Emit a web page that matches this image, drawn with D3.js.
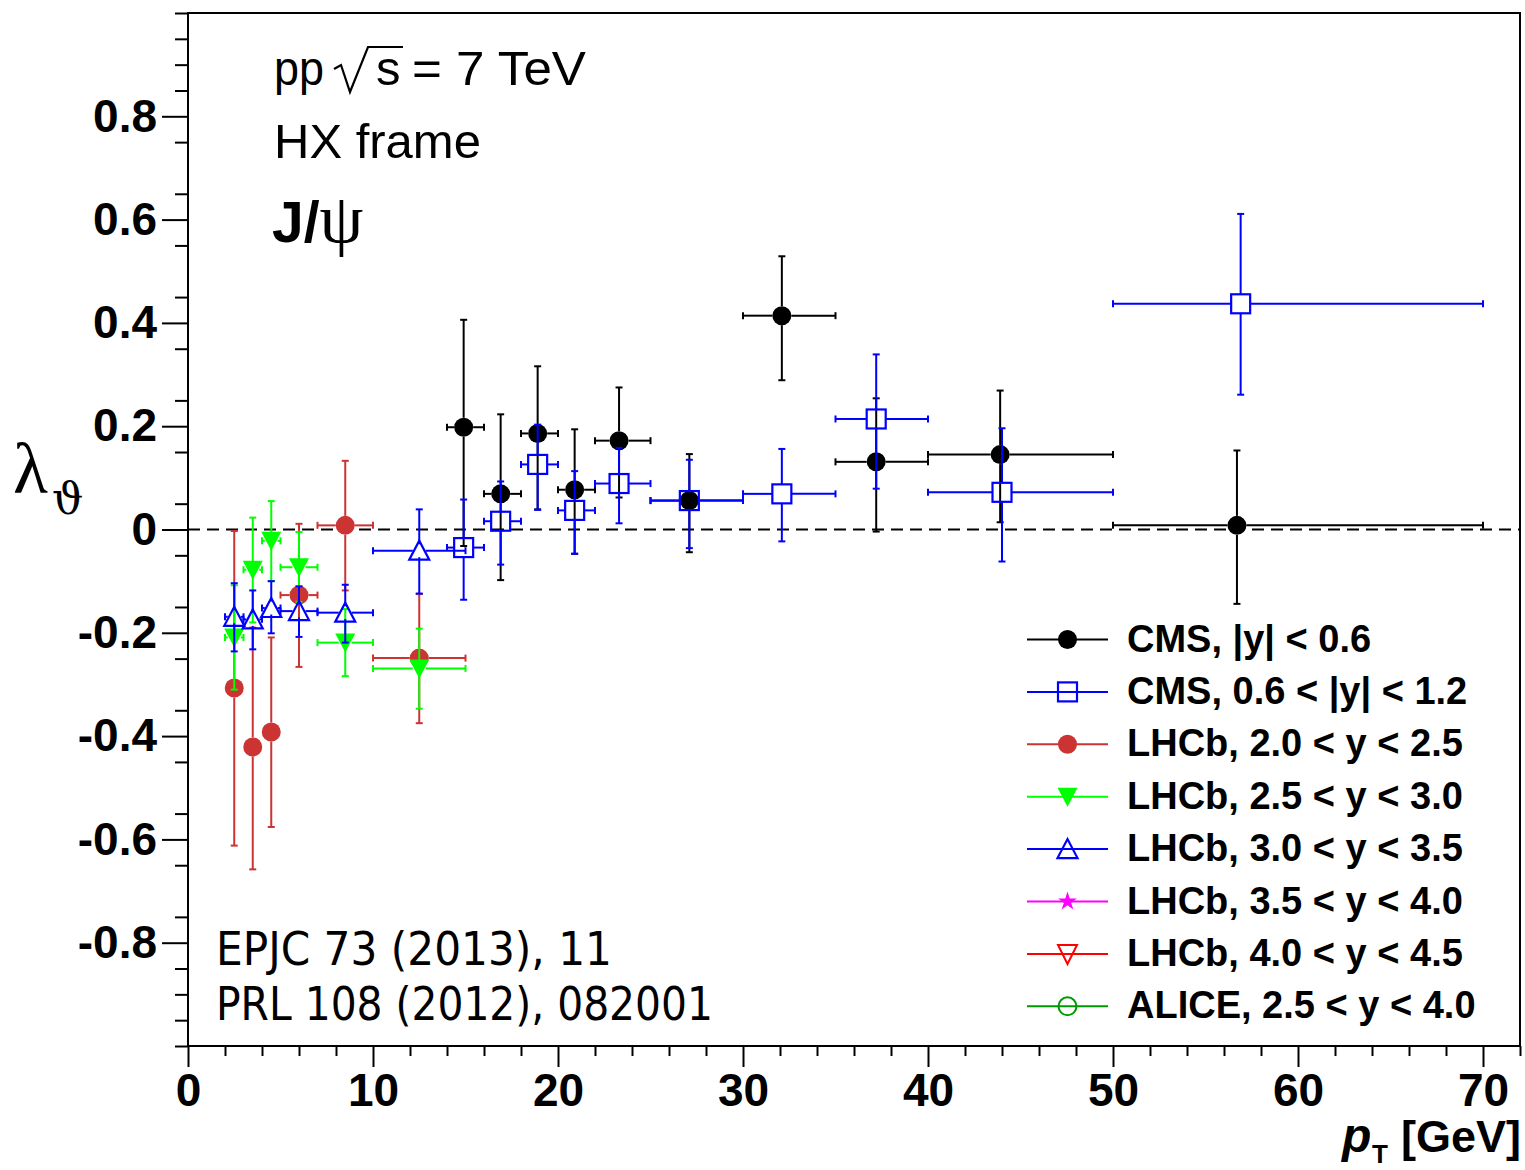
<!DOCTYPE html>
<html>
<head>
<meta charset="utf-8">
<script src="https://cdn.jsdelivr.net/npm/d3@7/dist/d3.min.js"></script>
<style>
  body { margin: 0; background: #fff; }
  svg { display: block; }
</style>
</head>
<body>
<div id="chart"></div>
<script>
// CMS, |y| < 0.6
const cmsA_pt   = [14.9, 16.9, 18.9, 20.9, 23.3, 27.1, 32.1, 37.2, 43.9, 56.7];
const cmsA_ptLo = [14, 16, 18, 20, 22, 25, 30, 35, 40, 50];
const cmsA_ptHi = [16, 18, 20, 22, 25, 30, 35, 40, 50, 70];
const cmsA_lam  = [0.198, 0.069, 0.186, 0.077, 0.172, 0.056, 0.414, 0.131, 0.145, 0.008];
const cmsA_hi   = [0.406, 0.223, 0.316, 0.194, 0.275, 0.146, 0.529, 0.254, 0.269, 0.153];
const cmsA_lo   = [-0.032, -0.098, 0.039, -0.047, 0.062, -0.044, 0.289, -0.004, 0.014, -0.144];

// CMS, 0.6 < |y| < 1.2
const cmsB_pt   = [14.9, 16.9, 18.9, 20.9, 23.3, 27.1, 32.1, 37.2, 44.0, 56.9];
const cmsB_ptLo = [14, 16, 18, 20, 22, 25, 30, 35, 40, 50];
const cmsB_ptHi = [16, 18, 20, 22, 25, 30, 35, 40, 50, 70];
const cmsB_lam  = [-0.035, 0.016, 0.126, 0.037, 0.089, 0.056, 0.069, 0.214, 0.072, 0.437];
const cmsB_hi   = [0.058, 0.093, 0.203, 0.113, 0.158, 0.135, 0.156, 0.339, 0.196, 0.611];
const cmsB_lo   = [-0.136, -0.068, 0.038, -0.047, 0.012, -0.036, -0.023, 0.079, -0.062, 0.261];

// LHCb bins (shared)
const lhcb_pt   = [2.5, 3.5, 4.5, 6.0, 8.5, 12.5];
const lhcb_ptLo = [2, 3, 4, 5, 7, 10];
const lhcb_ptHi = [3, 4, 5, 7, 10, 15];

// LHCb, 2.0 < y < 2.5
const lhcb1_lam = [-0.307, -0.421, -0.392, -0.127, 0.008, -0.249];
const lhcb1_hi  = [-0.003, -0.190, -0.209, 0.011, 0.133, -0.125];
const lhcb1_lo  = [-0.612, -0.658, -0.576, -0.266, -0.118, -0.375];

// LHCb, 2.5 < y < 3.0
const lhcb2_lam = [-0.209, -0.078, -0.022, -0.073, -0.219, -0.269];
const lhcb2_hi  = [-0.108, 0.023, 0.055, -0.005, -0.154, -0.192];
const lhcb2_lo  = [-0.310, -0.180, -0.100, -0.140, -0.284, -0.347];

// LHCb, 3.0 < y < 3.5
const lhcb3_lam = [-0.169, -0.174, -0.152, -0.158, -0.161, -0.041];
const lhcb3_hi  = [-0.104, -0.118, -0.100, -0.110, -0.107, 0.039];
const lhcb3_lo  = [-0.236, -0.232, -0.201, -0.208, -0.219, -0.124];

// no points inside the frame for these
const lhcb4_lam = [];
const lhcb5_lam = [];
const alice_lam = [];

const legendLabels = [
    "CMS, |y| < 0.6",
    "CMS, 0.6 < |y| < 1.2",
    "LHCb, 2.0 < y < 2.5",
    "LHCb, 2.5 < y < 3.0",
    "LHCb, 3.0 < y < 3.5",
    "LHCb, 3.5 < y < 4.0",
    "LHCb, 4.0 < y < 4.5",
    "ALICE, 2.5 < y < 4.0"
];

const yTickValues = [-0.8, -0.6, -0.4, -0.2, 0, 0.2, 0.4, 0.6, 0.8];
const xTickValues = [0, 10, 20, 30, 40, 50, 60, 70];

function rows(pt, ptLo, ptHi, lam, hi, lo) {
    return lam.map((v, i) => ({ pt: pt[i], ptLo: ptLo[i], ptHi: ptHi[i], lam: v, hi: hi[i], lo: lo[i] }));
}

// series in drawing order (legend order too); gap = space left around the marker
const series = [
    { data: rows(cmsA_pt, cmsA_ptLo, cmsA_ptHi, cmsA_lam, cmsA_hi, cmsA_lo), color: "#000000", marker: "circle", gap: 9.5 },
    { data: rows(cmsB_pt, cmsB_ptLo, cmsB_ptHi, cmsB_lam, cmsB_hi, cmsB_lo), color: "#0000ff", marker: "openSquare", gap: 9.5 },
    { data: rows(lhcb_pt, lhcb_ptLo, lhcb_ptHi, lhcb1_lam, lhcb1_hi, lhcb1_lo), color: "#cc3333", marker: "circle", gap: 9.5 },
    { data: rows(lhcb_pt, lhcb_ptLo, lhcb_ptHi, lhcb2_lam, lhcb2_hi, lhcb2_lo), color: "#00ff00", marker: "triDown", gap: 6.5 },
    { data: rows(lhcb_pt, lhcb_ptLo, lhcb_ptHi, lhcb3_lam, lhcb3_hi, lhcb3_lo), color: "#0000ff", marker: "openTriUp", gap: 6.5 },
    { data: rows([], [], [], lhcb4_lam, [], []), color: "#ff00ff", marker: "star", gap: 6 },
    { data: rows([], [], [], lhcb5_lam, [], []), color: "#ff0000", marker: "openTriDown", gap: 6.5 },
    { data: rows([], [], [], alice_lam, [], []), color: "#009900", marker: "openCircle", gap: 9.5 }
];

const W = 1525, H = 1170;
const margin = { top: 13, right: 5, bottom: 124, left: 188 };

const svg = d3.select("#chart").append("svg")
    .attr("width", W)
    .attr("height", H)
    .style("font-family", "'Liberation Sans', Arial, Helvetica, sans-serif");

const x = d3.scaleLinear().domain([0, 72]).range([margin.left, W - margin.right]);
const y = d3.scaleLinear().domain([-1, 1]).range([H - margin.bottom, margin.top]);

// minor ticks
const xMinor = d3.range(0, 73, 2).filter(v => v % 10 !== 0);
const yMinor = d3.range(-20, 21).map(v => v * 0.05).filter(v => Math.abs(Math.round(v * 10) - v * 10) > 1e-6 || Math.abs(v) > 0.85);

// y axis
const yAxisG = svg.append("g").attr("transform", `translate(${margin.left},0)`);
yAxisG.call(d3.axisLeft(y).tickValues(yMinor).tickSize(13).tickFormat(""))
    .call(g => g.select(".domain").remove());
yAxisG.append("g").call(d3.axisLeft(y).tickValues(yTickValues).tickSize(26).tickPadding(5)
        .tickFormat(d => d === 0 ? "0" : d.toFixed(1)))
    .call(g => g.select(".domain").remove())
    .selectAll("text")
    .attr("fill", "#000")
    .style("font-size", "46px")
    .style("font-weight", "bold")
    .style("font-family", "'Liberation Sans', Arial, sans-serif");
yAxisG.selectAll("line").attr("stroke", "#000").attr("stroke-width", 2);

// x axis
const xAxisG = svg.append("g").attr("transform", `translate(0,${H - margin.bottom})`);
xAxisG.call(d3.axisBottom(x).tickValues(xMinor).tickSize(10).tickFormat(""))
    .call(g => g.select(".domain").remove());
xAxisG.append("g").call(d3.axisBottom(x).tickValues(xTickValues).tickSize(21).tickPadding(6)
        .tickFormat(d3.format("d")))
    .call(g => g.select(".domain").remove())
    .selectAll("text")
    .attr("fill", "#000")
    .style("font-size", "46px")
    .style("font-weight", "bold")
    .style("font-family", "'Liberation Sans', Arial, sans-serif");
xAxisG.selectAll("line").attr("stroke", "#000").attr("stroke-width", 2);

// frame
svg.append("rect")
    .attr("x", x(0)).attr("y", y(1))
    .attr("width", x(72) - x(0)).attr("height", y(-1) - y(1))
    .attr("fill", "none").attr("stroke", "#000").attr("stroke-width", 2);

// zero line
svg.append("line")
    .attr("x1", x(0)).attr("x2", x(72))
    .attr("y1", y(0)).attr("y2", y(0))
    .attr("stroke", "#000").attr("stroke-width", 2)
    .attr("stroke-dasharray", "12,7");

// marker drawing
const HALF = 9.5;
function drawMarker(g, type, cx, cy, color) {
    const h = HALF;
    if (type === "circle") {
        g.append("circle").attr("cx", cx).attr("cy", cy).attr("r", 9.5).attr("fill", color);
    } else if (type === "openCircle") {
        g.append("circle").attr("cx", cx).attr("cy", cy).attr("r", 9)
            .attr("fill", "none").attr("stroke", color).attr("stroke-width", 2);
    } else if (type === "openSquare") {
        g.append("rect").attr("x", cx - h).attr("y", cy - h).attr("width", 2 * h).attr("height", 2 * h)
            .attr("fill", "none").attr("stroke", color).attr("stroke-width", 2.2);
    } else if (type === "triDown") {
        g.append("path").attr("d", `M${cx - 10},${cy - 9}L${cx + 10},${cy - 9}L${cx},${cy + 10}Z`)
            .attr("fill", color);
    } else if (type === "openTriDown") {
        g.append("path").attr("d", `M${cx - 9.5},${cy - 9}L${cx + 9.5},${cy - 9}L${cx},${cy + 10}Z`)
            .attr("fill", "none").attr("stroke", color).attr("stroke-width", 2);
    } else if (type === "openTriUp") {
        g.append("path").attr("d", `M${cx - 10},${cy + 9}L${cx + 10},${cy + 9}L${cx},${cy - 10}Z`)
            .attr("fill", "none").attr("stroke", color).attr("stroke-width", 2.2);
    } else if (type === "star") {
        g.append("path").attr("d", d3.symbol().type(d3.symbolStar).size(110)())
            .attr("transform", `translate(${cx},${cy})`)
            .attr("fill", color);
    }
}

// error bars with a gap around the marker, ROOT style; a cap only where its bar shows
const CAP = 3.5;
function drawErrors(g, d, color, gap) {
    const cx = x(d.pt), cy = y(d.lam);
    const xl = x(d.ptLo), xr = x(d.ptHi), yt = y(d.hi), yb = y(d.lo);
    const segs = [];
    if (cx - gap > xl + 0.5) segs.push([xl, cy, cx - gap, cy], [xl, cy - CAP, xl, cy + CAP]);
    if (xr - 0.5 > cx + gap) segs.push([cx + gap, cy, xr, cy], [xr, cy - CAP, xr, cy + CAP]);
    if (cy - gap > yt + 0.5) segs.push([cx, yt, cx, cy - gap], [cx - CAP, yt, cx + CAP, yt]);
    if (yb - 0.5 > cy + gap) segs.push([cx, cy + gap, cx, yb], [cx - CAP, yb, cx + CAP, yb]);
    g.selectAll(null).data(segs).enter().append("line")
        .attr("x1", s => s[0]).attr("y1", s => s[1])
        .attr("x2", s => s[2]).attr("y2", s => s[3])
        .attr("stroke", color).attr("stroke-width", 2);
}

series.forEach(s => {
    const g = svg.append("g");
    s.data.forEach(d => drawErrors(g, d, s.color, s.gap));
    s.data.forEach(d => drawMarker(g, s.marker, x(d.pt), y(d.lam), s.color));
});

// legend
const legend = svg.append("g");
const legY0 = 639.5, legDy = 52.4;
series.forEach((s, i) => {
    const ly = legY0 + i * legDy;
    legend.append("line")
        .attr("x1", 1027).attr("x2", 1108).attr("y1", ly).attr("y2", ly)
        .attr("stroke", s.color).attr("stroke-width", 2);
    drawMarker(legend, s.marker, 1067.5, ly, s.color);
    legend.append("text")
        .attr("x", 1127).attr("y", ly + 12)
        .style("font-size", "38px").style("font-weight", "bold")
        .text(legendLabels[i]);
});

// annotation, top left
const ann = svg.append("g").style("font-size", "49px");
ann.append("text").attr("x", 274).attr("y", 85)
    .attr("textLength", 50).attr("lengthAdjust", "spacingAndGlyphs").text("pp");
ann.append("path")
    .attr("d", "M334,69 L341,65 L350,92 L368,47 L403,47")
    .attr("fill", "none").attr("stroke", "#000").attr("stroke-width", 2.2);
ann.append("text").attr("x", 376).attr("y", 85).text("s");
ann.append("text").attr("x", 412).attr("y", 85)
    .attr("textLength", 174).attr("lengthAdjust", "spacingAndGlyphs").text("= 7 TeV");
ann.append("text").attr("x", 274).attr("y", 158).text("HX frame");
const jpsi = ann.append("text").attr("x", 272).attr("y", 242);
jpsi.append("tspan").style("font-weight", "bold").style("font-size", "57px").text("J/");
jpsi.append("tspan").style("font-family", "'Liberation Serif', 'DejaVu Serif', serif").style("font-size", "70px").text("ψ");

// references, bottom left
const refs = svg.append("g")
    .style("font-family", "'DejaVu Sans Condensed', 'DejaVu Sans', sans-serif")
    .style("font-stretch", "condensed")
    .style("font-size", "46px");
refs.append("text").attr("x", 216).attr("y", 965)
    .attr("textLength", 396).attr("lengthAdjust", "spacingAndGlyphs")
    .text("EPJC 73 (2013), 11");
refs.append("text").attr("x", 216).attr("y", 1020)
    .attr("textLength", 497).attr("lengthAdjust", "spacingAndGlyphs")
    .text("PRL 108 (2012), 082001");

// axis titles
svg.append("text").attr("x", 1521).attr("y", 1152).attr("text-anchor", "end")
    .style("font-size", "45px").style("font-weight", "bold").text("[GeV]");
svg.append("text").attr("x", 1342).attr("y", 1152)
    .style("font-size", "48px").style("font-weight", "bold").style("font-style", "italic").text("p");
svg.append("text").attr("x", 1372).attr("y", 1163)
    .style("font-size", "26px").style("font-weight", "bold").text("T");

svg.append("text").attr("x", 13).attr("y", 493)
    .style("font-family", "'Liberation Serif', 'DejaVu Serif', serif")
    .style("font-size", "72px").text("λ");
svg.append("text").attr("x", 52).attr("y", 514)
    .style("font-family", "'DejaVu Serif', 'Liberation Serif', serif")
    .style("font-size", "44px").text("ϑ");
</script>
</body>
</html>
